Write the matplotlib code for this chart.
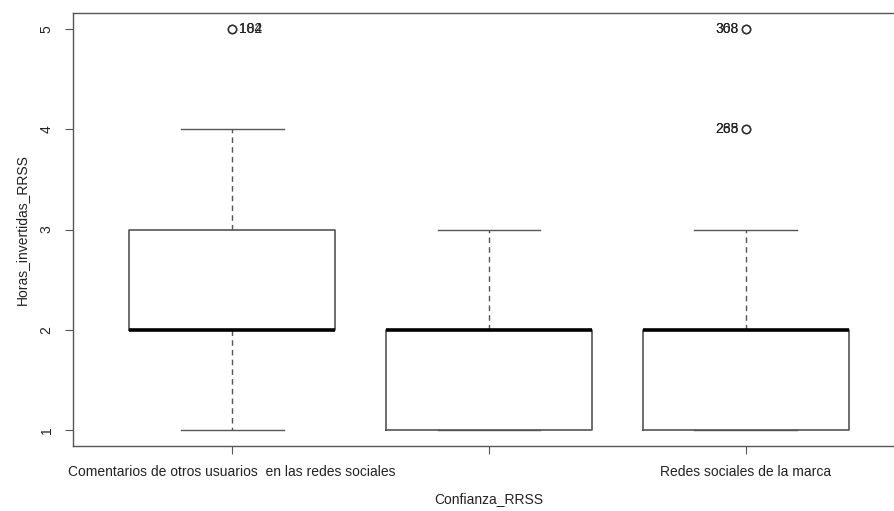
import matplotlib
matplotlib.use("Agg")
import matplotlib.pyplot as plt

plt.rcParams['font.family'] = ['Liberation Sans', 'DejaVu Sans']

# data
categories = ["Comentarios de otros usuarios  en las redes sociales", "", "Redes sociales de la marca"]
whislo = [1, 1, 1]
q1 = [2, 1, 1]
med = [2, 2, 2]
q3 = [3, 2, 2]
whishi = [4, 3, 3]

out_group = [1, 1, 3, 3, 3, 3]
out_val = [5, 5, 4, 4, 5, 5]
out_label = ["102", "184", "265", "288", "308", "368"]

stats = []
for i in range(len(categories)):
    fl = [v for g, v in zip(out_group, out_val) if g == i + 1]
    stats.append(dict(whislo=whislo[i], q1=q1[i], med=med[i], q3=q3[i],
                      whishi=whishi[i], fliers=fl, label=categories[i]))

fig = plt.figure(figsize=(8.94, 5.11), dpi=100)
# right edge of the frame falls outside the picture, as in the original
ax = fig.add_axes([73/894, 65/511, 832/894, 433/511])

edge = '#555555'
ax.bxp(stats, positions=[1, 2, 3], widths=0.8, manage_ticks=False,
       boxprops=dict(color=edge, linewidth=1.2),
       whiskerprops=dict(color=edge, linewidth=1.0, linestyle=(0, (4, 3))),
       capprops=dict(color=edge, linewidth=1.0),
       medianprops=dict(color='black', linewidth=2.6),
       flierprops=dict(marker='o', markersize=6, markerfacecolor='none',
                       markeredgecolor='#333333', markeredgewidth=1.0))

for g, v, lab in zip(out_group, out_val, out_label):
    if g == 1:
        ax.annotate(lab, (g, v), xytext=(5, 0), textcoords='offset points',
                    ha='left', va='center', fontsize=10, color='#222222')
    else:
        ax.annotate(lab, (g, v), xytext=(-5, 0), textcoords='offset points',
                    ha='right', va='center', fontsize=10, color='#222222')

ax.set_xlim(0.38, 3.62)
ax.set_ylim(0.84, 5.16)
ax.set_xticks([1, 2, 3])
ax.set_xticklabels(categories, fontsize=10, color='#222222')
ax.set_yticks([1, 2, 3, 4, 5])
ax.set_yticklabels(['1', '2', '3', '4', '5'], fontsize=10, rotation=90,
                   va='center', color='#222222')
ax.tick_params(axis='both', length=6, color=edge, pad=8)
for s in ax.spines.values():
    s.set_color(edge)
    s.set_linewidth(1.0)

ax.set_xlabel("Confianza_RRSS", fontsize=10, color='#222222', labelpad=9)
ax.set_ylabel("Horas_invertidas_RRSS", fontsize=10, color='#222222', labelpad=8)

fig.savefig("out.png", dpi=100)
